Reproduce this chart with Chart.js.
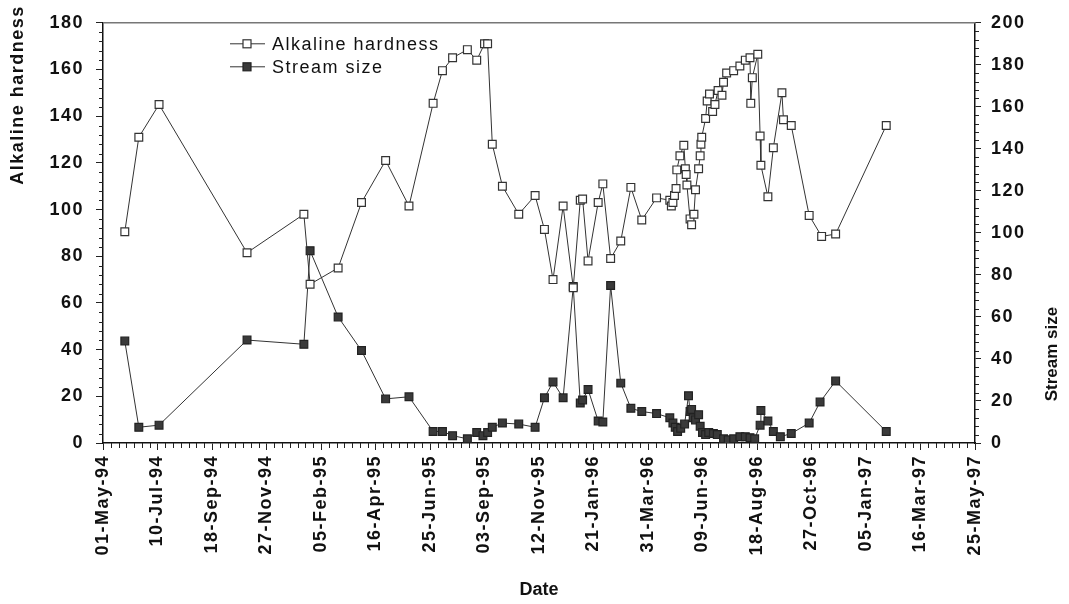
<!DOCTYPE html>
<html>
<head>
<meta charset="utf-8">
<title>Alkaline hardness and stream size</title>
<script src="https://cdn.jsdelivr.net/npm/chart.js@4"></script>
<style>
  html, body { margin: 0; padding: 0; background: #fff; }
  canvas { display: block; }
</style>
</head>
<body>
<canvas id="chart" width="1069" height="604"></canvas>
<script>
// x values are days counted from 01-May-94
const alkDays = [28, 46, 72, 185, 258, 266, 302, 332, 363, 393, 424, 436, 449, 468, 480, 490, 494, 500, 513, 534,
  555, 567, 578, 591, 604, 613, 616, 623, 636, 642, 652, 665, 678, 692, 711, 728, 730, 732, 734, 736,
  737, 741, 746, 748, 749, 750, 754, 756, 759, 761, 765, 767, 768, 769, 774, 776, 779, 783, 786, 790,
  795, 797, 801, 810, 818, 825, 831, 832, 834, 841, 844, 845, 854, 861, 872, 874, 884, 907, 923, 941, 1006];
const alkValues = [90.5, 131, 145, 81.5, 98, 68, 75, 103, 121, 101.5, 145.5, 159.5, 165, 168.5, 164, 171, 171, 128, 110, 98,
  106, 91.5, 70, 101.5, 66.5, 104, 104.5, 78, 103, 111, 79, 86.5, 109.5, 95.5, 105, 104, 101.5, 103, 106, 109,
  117, 123, 127.5, 117.5, 115, 110.5, 96, 93.5, 98, 108.5, 117.5, 123, 128, 131, 139, 146.5, 149.5, 142, 145, 151,
  149, 154.5, 158.5, 159.5, 161.5, 164, 165, 145.5, 156.5, 166.5, 131.5, 119, 105.5, 126.5, 150, 138.5, 136, 97.5, 88.5, 89.5, 136];

const streamDays = [28, 46, 72, 185, 258, 266, 302, 332, 363, 393, 424, 436, 449, 468, 480, 488, 494, 500, 513, 534,
  555, 567, 578, 591, 604, 613, 616, 623, 636, 642, 652, 665, 678, 692, 711, 728, 732, 735, 738, 742,
  747, 752, 754, 756, 758, 761, 765, 767, 770, 774, 778, 784, 789, 797, 803, 810, 818, 825, 831, 837,
  844, 845, 854, 861, 870, 884, 907, 921, 941, 1006];
const streamValues = [48.5, 7.5, 8.5, 49, 47, 91.5, 60, 44, 21, 22, 5.5, 5.5, 3.5, 2, 5, 3.5, 5, 7.5, 9.5, 9,
  7.5, 21.5, 29, 21.5, 74.5, 19, 20.5, 25.5, 10.5, 10, 75, 28.5, 16.5, 15, 14, 12, 9.5, 7.5, 5.5, 7,
  9, 22.5, 15, 16, 12, 11, 13.5, 8, 5, 4, 5, 4.5, 4, 2, 1.5, 2, 3, 3, 2.5, 2,
  8.5, 15.5, 10.5, 5.5, 3, 4.5, 9.5, 19.5, 29.5, 5.5];

const seriesNames = ['Alkaline hardness', 'Stream size'];
const axisTitles = { x: 'Date', y: 'Alkaline hardness', y1: 'Stream size' };

const FONT = '"Liberation Sans", Arial, sans-serif';
const startDate = Date.UTC(1994, 4, 1);
const months = ['Jan','Feb','Mar','Apr','May','Jun','Jul','Aug','Sep','Oct','Nov','Dec'];

function dayLabel(d) {
  const dt = new Date(startDate + d * 86400000);
  const dd = String(dt.getUTCDate()).padStart(2, '0');
  const yy = String(dt.getUTCFullYear() % 100).padStart(2, '0');
  return dd + '-' + months[dt.getUTCMonth()] + '-' + yy;
}

const spacing = {
  id: 'spacing',
  beforeLayout(chart) { chart.ctx.letterSpacing = '1.5px'; },
  beforeDraw(chart) { chart.ctx.letterSpacing = '1.5px'; }
};

const decor = {
  id: 'decor',
  afterDraw(chart) {
    const ctx = chart.ctx;
    const a = chart.chartArea;
    const sx = chart.scales.x, sy = chart.scales.y, sy1 = chart.scales.y1;
    ctx.save();

    // top frame line
    ctx.strokeStyle = '#777';
    ctx.lineWidth = 1.5;
    ctx.beginPath();
    ctx.moveTo(a.left, a.top);
    ctx.lineTo(a.right, a.top);
    ctx.stroke();

    // minor ticks
    ctx.strokeStyle = '#222';
    ctx.lineWidth = 1;
    ctx.beginPath();
    for (let v = 0; v <= 180; v += 4) {
      if (v % 20 === 0) continue;
      const p = Math.round(sy.getPixelForValue(v)) + 0.5;
      ctx.moveTo(a.left - 4, p); ctx.lineTo(a.left, p);
    }
    for (let v = 0; v <= 200; v += 4) {
      if (v % 20 === 0) continue;
      const p = Math.round(sy1.getPixelForValue(v)) + 0.5;
      ctx.moveTo(a.right, p); ctx.lineTo(a.right + 4, p);
    }
    for (let v = 0; v <= 1120; v += 10) {
      if (v % 70 === 0) continue;
      const p = Math.round(sx.getPixelForValue(v)) + 0.5;
      ctx.moveTo(p, a.bottom); ctx.lineTo(p, a.bottom + 5);
    }
    ctx.stroke();

    // axis titles
    ctx.fillStyle = '#111';
    ctx.textAlign = 'center';
    ctx.textBaseline = 'middle';
    ctx.letterSpacing = '1.5px';
    ctx.font = 'bold 18px ' + FONT;
    ctx.save();
    ctx.translate(18, 95);
    ctx.rotate(-Math.PI / 2);
    ctx.fillText(axisTitles.y, 0, 0);
    ctx.restore();

    ctx.letterSpacing = '0px';
    ctx.font = 'bold 17px ' + FONT;
    ctx.save();
    ctx.translate(1052, 354);
    ctx.rotate(-Math.PI / 2);
    ctx.fillText(axisTitles.y1, 0, 0);
    ctx.restore();

    ctx.font = 'bold 18px ' + FONT;
    ctx.fillText(axisTitles.x, (a.left + a.right) / 2, 590);

    // legend inside the plot
    ctx.letterSpacing = '1.5px';
    ctx.font = '18px ' + FONT;
    ctx.textAlign = 'left';
    chart.data.datasets.forEach((ds, i) => {
      const y = a.top + 21 + i * 23;
      const x0 = a.left + 127;
      ctx.strokeStyle = '#333';
      ctx.lineWidth = 1;
      ctx.beginPath();
      ctx.moveTo(x0, y); ctx.lineTo(x0 + 35, y);
      ctx.stroke();
      ctx.fillStyle = ds.pointBackgroundColor;
      ctx.fillRect(x0 + 13, y - 4, 8, 8);
      ctx.lineWidth = 1.2;
      ctx.strokeStyle = ds.pointBorderColor;
      ctx.strokeRect(x0 + 13, y - 4, 8, 8);
      ctx.fillStyle = '#111';
      ctx.fillText(ds.label, x0 + 42, y + 1);
    });
    ctx.restore();
  }
};

const tickFont = { family: FONT, size: 18, weight: 'bold' };

new Chart(document.getElementById('chart'), {
  type: 'line',
  data: {
    datasets: [{
      label: seriesNames[0],
      data: alkDays.map((d, i) => ({ x: d, y: alkValues[i] })),
      yAxisID: 'y',
      borderColor: '#333',
      borderWidth: 1,
      pointStyle: 'rect',
      pointRadius: 5.5,
      pointBackgroundColor: '#fff',
      pointBorderColor: '#333',
      pointBorderWidth: 1.2,
      tension: 0
    }, {
      label: seriesNames[1],
      data: streamDays.map((d, i) => ({ x: d, y: streamValues[i] })),
      yAxisID: 'y1',
      borderColor: '#333',
      borderWidth: 1,
      pointStyle: 'rect',
      pointRadius: 5.5,
      pointBackgroundColor: '#3a3a3a',
      pointBorderColor: '#222',
      pointBorderWidth: 1.2,
      tension: 0
    }]
  },
  options: {
    responsive: false,
    animation: false,
    devicePixelRatio: 1,
    layout: { padding: { top: 18 } },
    plugins: {
      legend: { display: false },
      tooltip: { enabled: false }
    },
    scales: {
      x: {
        type: 'linear',
        position: 'bottom',
        min: 0,
        max: 1120,
        border: { color: '#111', width: 1.5 },
        grid: { drawOnChartArea: false, tickLength: 7, color: '#222' },
        ticks: {
          stepSize: 70,
          autoSkip: false,
          minRotation: 90,
          maxRotation: 90,
          padding: 5,
          color: '#111',
          font: tickFont,
          callback: v => dayLabel(v)
        },
        afterFit: s => { s.height = 161; }
      },
      y: {
        position: 'left',
        min: 0,
        max: 180,
        border: { color: '#111', width: 1.5 },
        grid: { drawOnChartArea: false, tickLength: 7, color: '#222' },
        ticks: { stepSize: 20, padding: 12, color: '#111', font: tickFont },
        afterFit: s => { s.width = 103; }
      },
      y1: {
        position: 'right',
        min: 0,
        max: 200,
        border: { color: '#111', width: 1.5 },
        grid: { drawOnChartArea: false, tickLength: 6, color: '#222' },
        ticks: { stepSize: 20, padding: 10, color: '#111', font: tickFont },
        afterFit: s => { s.width = 94; }
      }
    }
  },
  plugins: [spacing, decor]
});
</script>
</body>
</html>
